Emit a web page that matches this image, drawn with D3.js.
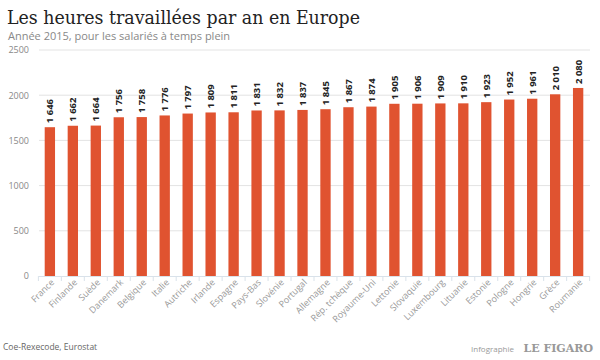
<!DOCTYPE html>
<html><head><meta charset="utf-8">
<script src="https://cdn.jsdelivr.net/npm/d3@7"></script>
<style>body{margin:0;background:#fff}svg{display:block}</style>
</head><body><svg id="c" width="600" height="360"></svg>
<script>
const categories = ["France","Finlande","Suède","Danemark","Belgique","Italie","Autriche","Irlande","Espagne","Pays-Bas","Slovénie","Portugal","Allemagne","Rép. tchèque","Royaume-Uni","Lettonie","Slovaquie","Luxembourg","Lituanie","Estonie","Pologne","Hongrie","Grèce","Roumanie"];
const hours = [1646,1662,1664,1756,1758,1776,1797,1809,1811,1831,1832,1837,1845,1867,1874,1905,1906,1909,1910,1923,1952,1961,2010,2080];
const yTicks = [0,500,1000,1500,2000,2500];

const svg = d3.select("#c");
const x = d3.scaleBand().domain(categories).range([38.5,589.5]).paddingInner(0.55).paddingOuter(0.27);
const y = d3.scaleLinear().domain([0,2500]).range([276,50]);
const sans = "'Open Sans','Noto Sans',sans-serif";

// title
svg.append("text").attr("x",7).attr("y",24).attr("font-family","'DejaVu Serif',serif").attr("font-size",18.5)
  .attr("textLength",353).attr("lengthAdjust","spacingAndGlyphs").attr("fill","#222").text("Les heures travaillées par an en Europe");
svg.append("text").attr("x",8).attr("y",40).attr("font-family",sans).attr("font-size",11).attr("fill","#888").text("Année 2015, pour les salariés à temps plein");

// grid
svg.append("g").selectAll("line").data(yTicks.filter(d=>d>0)).join("line")
  .attr("x1",39).attr("x2",590).attr("y1",d=>y(d)).attr("y2",d=>y(d))
  .attr("stroke","#e3e3e3").attr("stroke-width",1);

// y axis labels
const ya = svg.append("g").attr("transform","translate(29,0)").call(d3.axisLeft(y).tickValues(yTicks).tickSize(0).tickPadding(0).tickFormat(d3.format("d")));
ya.select(".domain").remove();
ya.selectAll("text").attr("font-family",sans).attr("font-size",9).attr("fill","#888");

// bars
svg.append("g").selectAll("rect").data(hours).join("rect")
  .attr("x",(d,i)=>x(categories[i])).attr("width",x.bandwidth())
  .attr("y",d=>y(d)).attr("height",d=>y(0)-y(d)).attr("fill","#e05330");

// value labels
const fmt = d=>d3.format(",")(d).replace(/,/g," ");
svg.append("g").selectAll("text").data(hours).join("text")
  .attr("transform",(d,i)=>`translate(${x(categories[i])+x.bandwidth()/2+3.5},${y(d)-4}) rotate(-90)`)
  .attr("font-family",sans).attr("font-size",9.5).attr("font-weight","bold").attr("fill","#222")
  .text(fmt);

// x axis
const xa = svg.append("g").attr("transform",`translate(0,${y(0)})`).call(d3.axisBottom(x).tickSize(0).tickPadding(0));
xa.select(".domain").attr("stroke","#d9e2ea");
xa.selectAll(".tick text").attr("font-family",sans).attr("font-size",9).attr("fill","#999")
  .attr("text-anchor","end").attr("dy",0).attr("transform","translate(5,7) rotate(-45)");
// boundary ticks
const bounds = categories.map(c=>x(c)-x.step()*x.paddingInner()/2).concat([x(categories[categories.length-1])+x.bandwidth()+x.step()*x.paddingInner()/2]);
svg.append("g").selectAll("line").data(bounds).join("line")
  .attr("x1",d=>d).attr("x2",d=>d).attr("y1",y(0)).attr("y2",y(0)+5).attr("stroke","#d9e2ea");

// footer
svg.append("text").attr("x",3).attr("y",350).attr("font-family",sans).attr("font-size",8.5).attr("fill","#666").text("Coe-Rexecode, Eurostat");
svg.append("text").attr("x",514).attr("y",352).attr("text-anchor","end").attr("font-family",sans).attr("font-size",8).attr("fill","#999").text("Infographie");
svg.append("text").attr("x",593).attr("y",352).attr("text-anchor","end").attr("font-family","'DejaVu Serif',serif").attr("font-weight","bold").attr("font-size",11).attr("fill","#999").text("LE FIGARO");
</script></body></html>
